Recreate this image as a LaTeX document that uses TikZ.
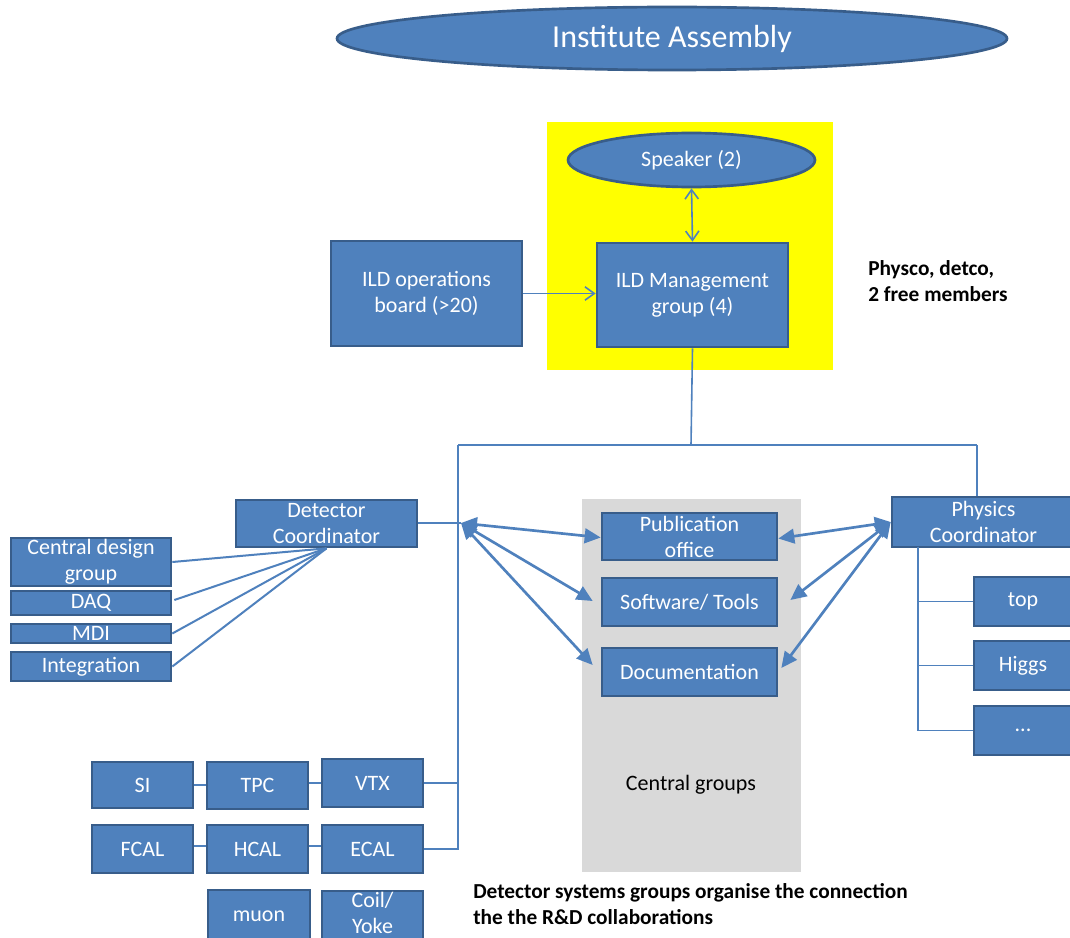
\documentclass[tikz,border=0pt]{standalone}
\usepackage{fontspec}
\setmainfont{Carlito}
\usetikzlibrary{arrows.meta,calc,shapes.geometric}
\definecolor{blu}{HTML}{4F81BD}
\definecolor{bdr}{HTML}{385D8A}
\definecolor{gry}{HTML}{D9D9D9}
\definecolor{yel}{HTML}{FFFF00}
\newcommand{\ildbox}[7][]{\node[ildb, minimum width={(#5-#3)*0.75pt}, minimum height={(#6-#4)*0.75pt}, #1] (#2) at ({(#3+#5)/2},{(#4+#6)/2}) {#7};}
\begin{document}
\begin{tikzpicture}[x=0.75pt,y=-0.75pt,
  ildb/.style={draw=bdr, fill=blu, line width=2pt, text=white, font=\fontsize{16.5}{19.5}\selectfont, align=center, inner sep=0pt},
  ildell/.style={ellipse, draw=bdr, fill=blu, line width=2pt, text=white, inner sep=0pt},
  conn/.style={draw=blu, line width=1.5pt},
  thin conn/.style={draw=blu, line width=1.2pt},
  open both/.style={draw=blu, line width=1.2pt, {Straight Barb[length=7pt,width=10pt]}-{Straight Barb[length=7pt,width=10pt]}},
  open end/.style={draw=blu, line width=1.2pt, -{Straight Barb[length=7pt,width=10pt]}},
  hubarrow/.style={draw=blu, line width=2pt, {Triangle[length=12pt,width=11pt]}-{Triangle[length=12pt,width=11pt]}},
  note/.style={font=\fontsize{16}{19.5}\selectfont\bfseries, align=left, inner sep=0pt, anchor=west}]
\clip (0,0) rectangle (1070,938);
\fill[white] (0,0) rectangle (1070,938);

% backgrounds
\fill[yel] (547,122) rectangle (833,370);
\fill[gry] (582,499) rectangle (801,872);

% top
\node[ildell, minimum width={670*0.75pt}, minimum height={63*0.75pt}, font=\fontsize{24}{28}\selectfont] (ia) at (672,38.5) {Institute Assembly};
\node[ildell, minimum width={247*0.75pt}, minimum height={54*0.75pt}, font=\fontsize{16.5}{19.5}\selectfont] (sp) at (691.5,160) {Speaker (2)};

\ildbox{mg}{597}{243}{788}{347}{ILD Management\\group (4)}
\ildbox{ops}{331}{241}{522}{346}{ILD operations\\board (>20)}

\draw[open both] (sp.south) -- (mg.north);
\draw[open end] (ops.east) -- (ops.east -| mg.west);

\node[note] (phys) at (868,281) {Physco, detco,\\2 free members};

% coordinators
\ildbox{dc}{236}{500}{417}{547}{Detector\\Coordinator}
\ildbox{pc}{892}{497}{1075}{547}{Physics\\Coordinator}

% central groups
\ildbox{pub}{602}{513}{777}{560}{Publication\\office}
\ildbox{sw}{602}{578}{777}{626}{Software/ Tools}
\ildbox{doc}{602}{648}{777}{696}{Documentation}
\node[font=\fontsize{16.5}{19.5}\selectfont, inner sep=0pt] (cg) at (691,785) {Central groups};

% left detector boxes
\ildbox{cdg}{11}{538}{171}{586}{Central design\\group}
\ildbox{daq}{11}{591}{171}{615}{DAQ}
\ildbox{mdi}{11}{624}{171}{643}{MDI}
\ildbox{intg}{11}{652}{171}{681}{Integration}

% physics boxes
\ildbox{top}{974}{577}{1072}{626}{top}
\ildbox{hig}{974}{641}{1072}{690}{Higgs}
\ildbox{dots}{974}{706}{1072}{755}{...}

% subdetector boxes
\ildbox{si}{92}{762}{193}{808}{SI}
\ildbox{tpc}{207}{762}{308}{809}{TPC}
\ildbox{vtx}{322}{759}{423}{807}{VTX}
\ildbox{fcal}{92}{825}{193}{873}{FCAL}
\ildbox{hcal}{207}{825}{308}{873}{HCAL}
\ildbox{ecal}{322}{825}{423}{873}{ECAL}
\ildbox{muon}{208}{890}{310}{942}{muon}
\ildbox[text depth=7pt]{coil}{322}{891}{423}{944}{\fontsize{16.5}{17.5}\selectfont Coil/\\Yoke}

\node[note] (ds) at (473,904) {Detector systems groups organise the connection\\the the R\&D collaborations};

% connector skeleton
\coordinate (jm) at (691,445);
\coordinate (jl) at (458,445);
\coordinate (jr) at (977,445);
\coordinate (hubL) at (461,523);
\coordinate (pcs) at (918,547);

\draw[thin conn] (mg.south) -- (jm);
\draw[thin conn] (jl) -- (jr);
\draw[thin conn] (jr) -- (jr |- pc.north);
\draw[thin conn] (jl) -- (jl |- ecal.east) -- (ecal.east);
\draw[thin conn] (vtx.east) -- (vtx.east -| jl);
\draw[thin conn] (si.east |- 0,785) -- (tpc.west |- 0,785);
\draw[thin conn] (tpc.east |- 0,783) -- (vtx.west |- 0,783);
\draw[thin conn] (fcal.east |- 0,846) -- (hcal.west |- 0,846);
\draw[thin conn] (hcal.east |- 0,846) -- (ecal.west |- 0,846);
\draw[thin conn] (dc.east |- hubL) -- (hubL);

% detector coordinator fan
\draw[conn] (dc.south) -- (cdg.east |- 0,562);
\draw[conn] (dc.south) -- ($(daq.east)+(2,-3)$);
\draw[conn] (dc.south) -- (mdi.east);
\draw[conn] (dc.south) -- (intg.east);

% hub arrows
\draw[hubarrow] (hubL) -- ($(pub.west)+(0,1)$);
\draw[hubarrow] (hubL) -- ($(sw.west)+(-8,-1)$);
\draw[hubarrow] (hubL) -- ($(doc.west)+(-8,-7)$);
\draw[hubarrow] (pc.west) -- ($(pub.east)+(0,2)$);
\draw[hubarrow] (pc.west) -- ($(sw.east)+(12,-2)$);
\draw[hubarrow] (pc.west) -- ($(doc.east)+(3,-4)$);

% physics tree
\draw[line width=2.2pt, blu] (pcs) -- (pcs |- top.west);
\draw[thin conn] (pcs |- top.west) -- (pcs |- dots.west) -- (dots.west);
\draw[thin conn] (pcs |- top.west) -- (top.west);
\draw[thin conn] (pcs |- hig.west) -- (hig.west);
\end{tikzpicture}
\end{document}
